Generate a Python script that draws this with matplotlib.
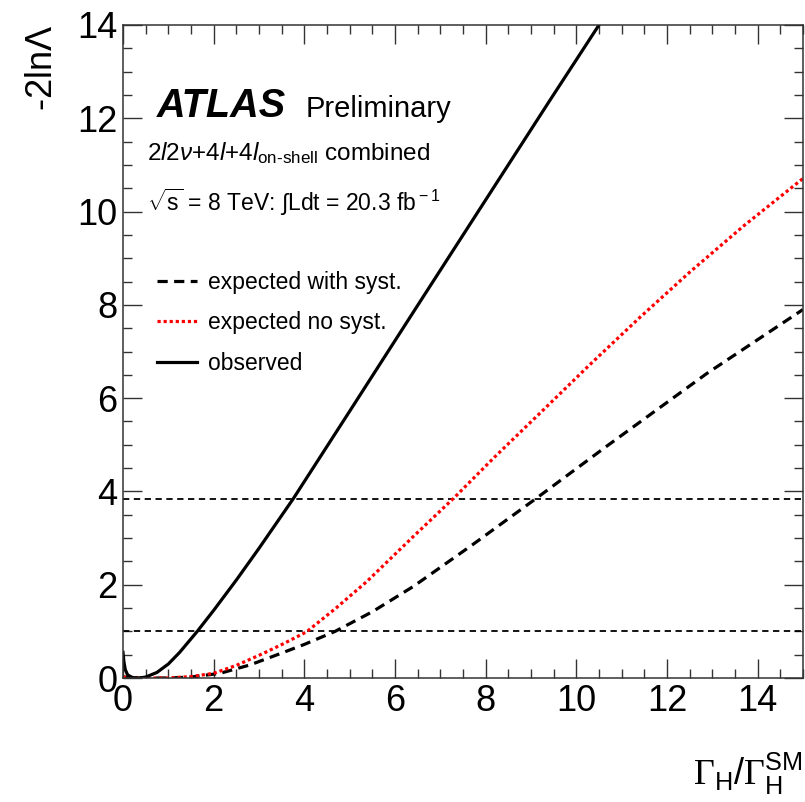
import matplotlib
matplotlib.use("Agg")
import matplotlib.pyplot as plt
from matplotlib.ticker import MultipleLocator
from matplotlib.lines import Line2D

plt.rcParams['font.family'] = ['Liberation Sans', 'DejaVu Sans']
plt.rcParams['mathtext.fontset'] = 'custom'
plt.rcParams['mathtext.rm'] = 'Liberation Sans'
plt.rcParams['mathtext.it'] = 'Liberation Sans:italic'
plt.rcParams['mathtext.bf'] = 'Liberation Sans:bold'
plt.rcParams['mathtext.sf'] = 'Liberation Serif'

# observed
obs_x = [0, 0.02, 0.05, 0.1, 0.2, 0.35, 0.5, 0.75, 1.0, 1.25, 1.63, 2.0, 2.5, 3.0, 3.76, 5.0, 6.62, 8.0, 9.42, 10.6]
obs_y = [0.55, 0.35, 0.18, 0.07, 0.01, 0.0, 0.02, 0.12, 0.3, 0.55, 0.99, 1.45, 2.1, 2.78, 3.85, 5.72, 8.17, 10.25, 12.39, 14.15]
# expected no syst
nos_x = [0, 0.5, 1.0, 1.5, 2.0, 2.5, 3.1, 3.55, 4.05, 4.7, 5.38, 6.4, 7.3, 8.2, 9.2, 10.3, 11.4, 12.5, 13.7, 15.0]
nos_y = [0.02, 0.0, 0.0, 0.03, 0.1, 0.27, 0.53, 0.74, 0.99, 1.5, 2.07, 3.03, 3.86, 4.74, 5.68, 6.72, 7.73, 8.7, 9.7, 10.71]
# expected with syst
wsy_x = [0, 0.5, 1.0, 1.5, 2.14, 2.8, 3.46, 4.0, 4.68, 5.5, 6.4, 7.7, 9.1, 10.67, 12.88, 15.0]
wsy_y = [0.02, 0.0, 0.0, 0.02, 0.1, 0.28, 0.52, 0.72, 1.0, 1.42, 1.96, 2.85, 3.84, 4.97, 6.53, 7.9]
ref_levels = [1.0, 3.84]

fig = plt.figure(figsize=(8.05, 8.02), dpi=100)
ax = fig.add_axes([123/805, 1-678/802, 680/805, 653/802])

for lv in ref_levels:
    ax.axhline(lv, color='black', lw=1.3, ls=(0, (3.5, 2.5)))
ax.plot(wsy_x, wsy_y, color='black', lw=2.3, ls=(0, (3.2, 2.0)))
ax.plot(nos_x, nos_y, color='#ff0000', lw=2.3, ls=(0, (1.0, 0.9)))
ax.plot(obs_x, obs_y, color='black', lw=2.3, ls='-')

ax.set_xlim(0, 15)
ax.set_ylim(0, 14)
ax.xaxis.set_major_locator(MultipleLocator(2))
ax.xaxis.set_minor_locator(MultipleLocator(0.5))
ax.yaxis.set_major_locator(MultipleLocator(2))
ax.yaxis.set_minor_locator(MultipleLocator(0.5))
ax.tick_params(which='both', direction='in', top=True, right=True, width=1.0, color='#333333')
ax.tick_params(which='major', length=13.5, labelsize=26, pad=4)
ax.tick_params(which='minor', length=6.8)
for s in ax.spines.values():
    s.set_linewidth(1.1)
    s.set_color('#333333')

def px(x, y):
    return (x/805, 1-y/802)

fig.text(*px(803, 785), r'$\mathsf{Γ}_{\rm H}/\mathsf{Γ}_{\rm H}^{\rm SM}$', ha='right', va='baseline', fontsize=26)
fig.text(*px(42, 25), r'-2ln$\Lambda$', rotation=90, ha='center', va='top', fontsize=26)

fig.text(*px(157, 117), 'ATLAS', fontsize=28.5, fontweight='bold', fontstyle='italic', ha='left', va='baseline')
fig.text(*px(306, 117), 'Preliminary', fontsize=21, ha='left', va='baseline')
fig.text(*px(147, 160), r'2$\it{l}$2$\nu$+4$\it{l}$+4$\it{l}_{\rm on\text{-}shell}$ combined', fontsize=17.5, ha='left', va='baseline')
fig.text(*px(147, 211), r'$\sqrt{\rm s}$ = 8 TeV: $\int$Ldt = 20.3 fb$^{\rm -1}$', fontsize=16.5, ha='left', va='baseline')

handles = [Line2D([], [], color='black', lw=2.3, ls=(0, (3.2, 2.0))),
           Line2D([], [], color='#ff0000', lw=2.3, ls=(0, (1.0, 0.9))),
           Line2D([], [], color='black', lw=2.3, ls='-')]
labels = ['expected with syst.', 'expected no syst.', 'observed']
leg = ax.legend(handles, labels, loc='upper left', bbox_to_anchor=(0.037, (678-262)/653), frameon=False,
                fontsize=16.5, handlelength=1.75, handletextpad=0.45, labelspacing=0.75, borderaxespad=0)

fig.savefig('out.png', dpi=100)
